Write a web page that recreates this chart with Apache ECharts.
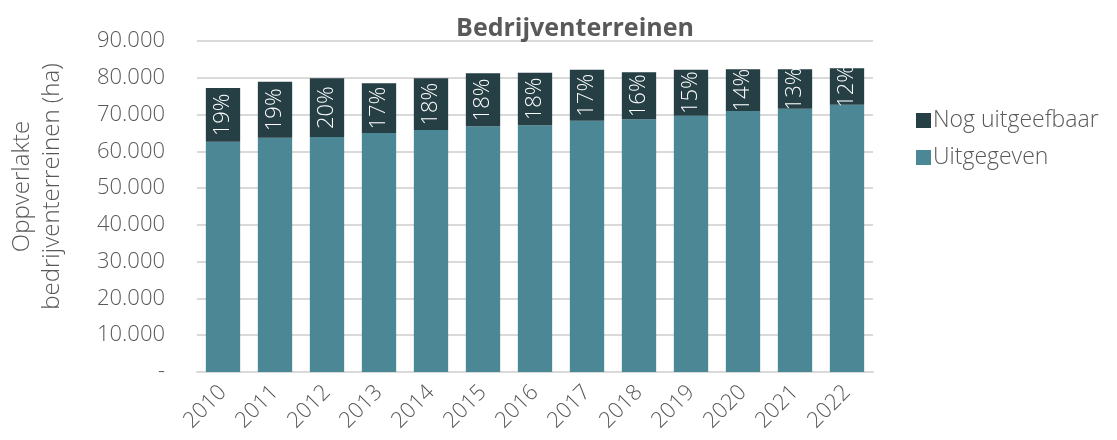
<!DOCTYPE html>
<html>
<head>
<meta charset="utf-8">
<script src="https://cdn.jsdelivr.net/npm/echarts@6/dist/echarts.min.js"></script>
<style>
  html, body { margin: 0; padding: 0; background: #fff; }
  #chart { width: 1117px; height: 440px; }
</style>
</head>
<body>
<div id="chart"></div>
<script>
// Surface of business parks (ha) per year
const years = ['2010', '2011', '2012', '2013', '2014', '2015', '2016', '2017', '2018', '2019', '2020', '2021', '2022'];
const uitgegeven = [62600, 63700, 63900, 65000, 65800, 66800, 67100, 68300, 68700, 69700, 71000, 71600, 72700];
const nogUitgeefbaar = [14600, 15200, 16000, 13500, 14100, 14400, 14300, 13900, 12800, 12500, 11300, 10700, 9900];
const yTicks = [0, 10000, 20000, 30000, 40000, 50000, 60000, 70000, 80000, 90000];

const FONT = '"Open Sans"';
const GREY = '#595959';

function fmtThousands(v) {
  if (v === 0) return '-';
  return String(v).replace(/\B(?=(\d{3})+(?!\d))/g, '.');
}

const chart = echarts.init(document.getElementById('chart'));
chart.setOption({
  animation: false,
  textStyle: { fontFamily: FONT },
  title: {
    text: 'Bedrijventerreinen',
    left: 570, top: 11, textAlign: 'center',
    textStyle: { fontFamily: FONT, fontSize: 25, fontWeight: 'bold', color: GREY }
  },
  legend: {
    orient: 'vertical',
    left: 911, top: 104,
    itemWidth: 15, itemHeight: 15, itemGap: 14,
    icon: 'rect',
    data: ['Nog uitgeefbaar', 'Uitgegeven'],
    textStyle: { fontFamily: FONT, fontSize: 23, fontWeight: 300, color: GREY, padding: [0, 0, 0, -3] }
  },
  grid: { left: 197, right: 244, top: 41, bottom: 68, containLabel: false, outerBoundsMode: 'none' },
  xAxis: {
    type: 'category',
    data: years,
    axisLine: { lineStyle: { color: '#d9d9d9', width: 2 } },
    axisTick: { show: false },
    axisLabel: {
      rotate: 45, fontFamily: FONT, fontSize: 22, fontWeight: 300, color: GREY, margin: 17, interval: 0
    }
  },
  yAxis: {
    type: 'value',
    min: yTicks[0], max: yTicks[yTicks.length - 1], interval: yTicks[1] - yTicks[0],
    name: 'Oppverlakte\nbedrijventerreinen (ha)',
    nameLocation: 'middle', nameGap: 130, nameRotate: 90,
    nameTextStyle: {
      fontFamily: FONT, fontSize: 24, fontWeight: 300, color: GREY, lineHeight: 30,
      padding: [0, 0, 0, 40]
    },
    axisLine: { show: false },
    axisTick: { show: false },
    splitLine: { lineStyle: { color: '#d9d9d9', width: 2 } },
    axisLabel: {
      fontFamily: FONT, fontSize: 22, fontWeight: 300, color: GREY, margin: 32,
      formatter: fmtThousands
    }
  },
  series: [
    {
      name: 'Uitgegeven', type: 'bar', stack: 'totaal',
      data: uitgegeven, barCategoryGap: '34%',
      itemStyle: { color: '#4b8794' }
    },
    {
      name: 'Nog uitgeefbaar', type: 'bar', stack: 'totaal',
      data: nogUitgeefbaar,
      itemStyle: { color: '#253f45' },
      label: {
        show: true, position: 'inside', rotate: 90,
        fontFamily: FONT, fontSize: 22, fontWeight: 300, color: '#ffffff',
        formatter: p => {
          const i = p.dataIndex;
          const total = uitgegeven[i] + nogUitgeefbaar[i];
          return Math.round(nogUitgeefbaar[i] / total * 100) + '%';
        }
      }
    }
  ]
});
</script>
</body>
</html>
